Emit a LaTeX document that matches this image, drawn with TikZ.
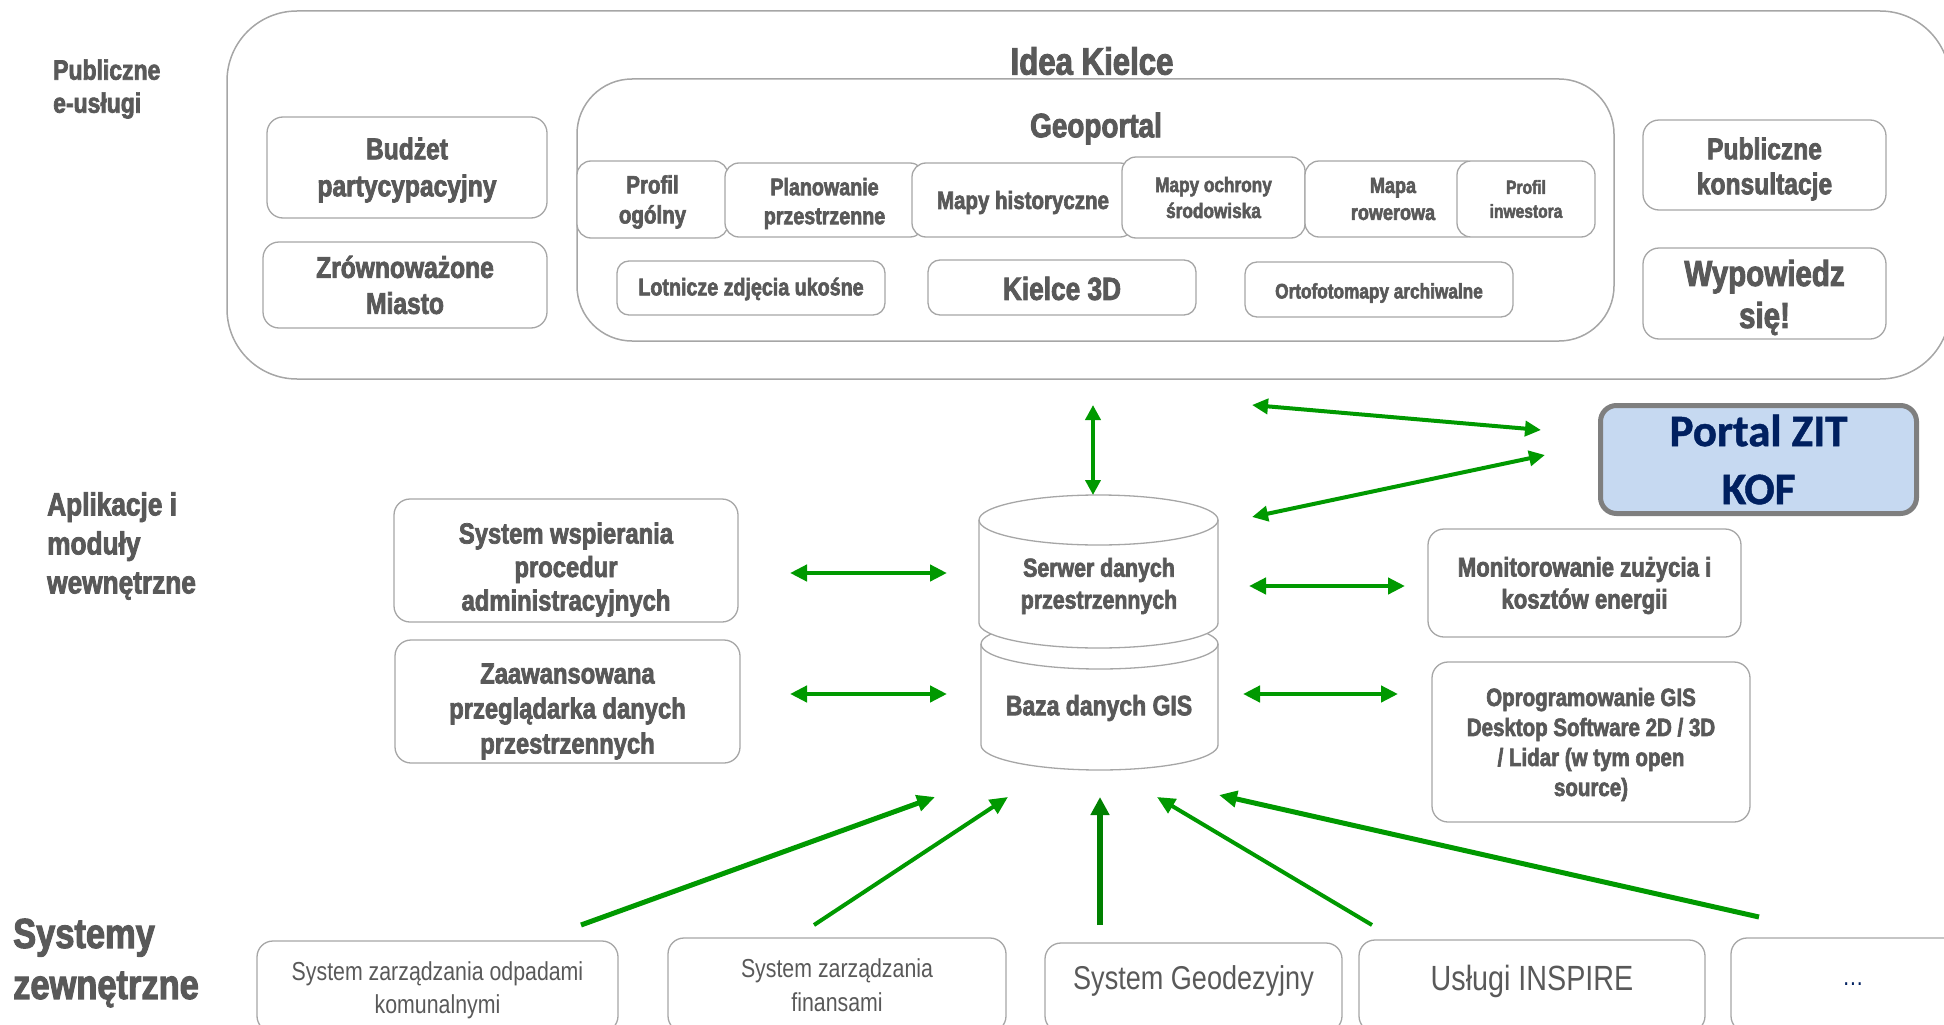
\documentclass[tikz,border=0pt]{standalone}
\usepackage{fontspec}
\setmainfont{Liberation Sans}[FakeStretch=0.82, BoldFeatures={FakeBold=2.5}]
\newfontfamily\portalfont{Carlito}[BoldFeatures={FakeBold=1}]
\usetikzlibrary{arrows.meta}
\definecolor{txt}{HTML}{595959}
\definecolor{bord}{HTML}{A6A6A6}
\definecolor{grn}{HTML}{009900}
\definecolor{dgrn}{HTML}{008000}
\definecolor{pfill}{HTML}{C6D9F1}
\definecolor{pbord}{HTML}{7F7F7F}
\definecolor{navy}{HTML}{002060}
\newcommand\fsz[2]{\fontsize{#1}{#2}\selectfont}
\begin{document}
\begin{tikzpicture}[x=1pt,y=-1pt,
  box/.style={draw=bord, line width=1.3pt, rounded corners=16pt, fill=white, inner sep=0pt},
  bigbox/.style={draw=bord, line width=1.5pt, inner sep=0pt},
  txtn/.style={inner sep=0pt, align=center, text=txt},
  lbl/.style={inner sep=0pt, align=left, text=txt, anchor=west},
  cyl/.style={draw=bord, line width=1.3pt, fill=white},
  harrow/.style={draw=grn, line width=4.5pt, {Triangle[length=17pt,width=16pt]}-{Triangle[length=17pt,width=16pt]}},
  parrow/.style={draw=grn, line width=4pt, {Triangle[length=16pt,width=15pt]}-{Triangle[length=16pt,width=15pt]}},
  uarrow/.style={draw=grn, -{Triangle[length=18pt,width=16pt]}},
]
\useasboundingbox (0,0) rectangle (1944,1025);

% ---------- top layer ----------
\node[bigbox, rounded corners=70pt, minimum width=1723pt, minimum height=368pt] (idea) at (1088.5,195) {};
\node[txtn, font=\bfseries\fsz{38}{45}] (ideaT) at (1092,61) {Idea Kielce};
\node[bigbox, rounded corners=55pt, minimum width=1037pt, minimum height=262pt] (geo) at (1095.5,210) {};
\node[txtn, font=\bfseries\fsz{34}{40}] (geoT) at (1096,128.5) {Geoportal};

\node[box, minimum width=151pt, minimum height=77pt, rounded corners=14pt] (profil) at (652.5,199.5) {};
\node[txtn, font=\bfseries\fsz{25}{30}] (profilT) at (652.5,202) {Profil\\ogólny};
\node[box, minimum width=199pt, minimum height=74pt, rounded corners=14pt] (plan) at (824.5,200) {};
\node[txtn, font=\bfseries\fsz{24}{29}] (planT) at (824.5,203.5) {Planowanie\\przestrzenne};
\node[box, minimum width=222pt, minimum height=74pt, rounded corners=14pt] (hist) at (1023,200) {};
\node[txtn, font=\bfseries\fsz{25}{30}] (histT) at (1023,202.5) {Mapy historyczne};
\node[box, minimum width=183pt, minimum height=81pt, rounded corners=14pt] (ochr) at (1213.5,197.5) {};
\node[txtn, font=\bfseries\fsz{21}{26}] (ochrT) at (1213.5,197.5) {Mapy ochrony\\środowiska};
\node[box, minimum width=175pt, minimum height=76pt, rounded corners=14pt] (rower) at (1392.5,199) {};
\node[txtn, font=\bfseries\fsz{22}{27}] (rowerT) at (1393,199) {Mapa\\rowerowa};
\node[box, minimum width=138pt, minimum height=76pt, rounded corners=14pt] (inwest) at (1526,199) {};
\node[txtn, font=\bfseries\fsz{19}{24}] (inwestT) at (1526,199) {Profil\\inwestora};

\node[box, minimum width=268pt, minimum height=54pt, rounded corners=12pt] (lotn) at (751,288) {};
\node[txtn, font=\bfseries\fsz{24}{29}] (lotnT) at (751,289) {Lotnicze zdjęcia ukośne};
\node[box, minimum width=268pt, minimum height=55pt, rounded corners=12pt] (k3d) at (1062,287.5) {};
\node[txtn, font=\bfseries\fsz{32}{38}] (k3dT) at (1062,288.5) {Kielce 3D};
\node[box, minimum width=268pt, minimum height=55pt, rounded corners=12pt] (orto) at (1379,289.5) {};
\node[txtn, font=\bfseries\fsz{21}{26}] (ortoT) at (1379,293) {Ortofotomapy archiwalne};

\node[box, minimum width=280pt, minimum height=101pt] (budzet) at (407,167.5) {};
\node[txtn, font=\bfseries\fsz{30}{37}] (budzetT) at (407,170) {Budżet\\partycypacyjny};
\node[box, minimum width=284pt, minimum height=86pt] (zrown) at (405,285) {};
\node[txtn, font=\bfseries\fsz{30}{36}] (zrownT) at (405,285) {Zrównoważone\\Miasto};
\node[box, minimum width=243pt, minimum height=90pt] (konsult) at (1764.5,165) {};
\node[txtn, font=\bfseries\fsz{30}{35}] (konsultT) at (1764.5,169) {Publiczne\\konsultacje};
\node[box, minimum width=243pt, minimum height=91pt] (wypow) at (1764.5,293.5) {};
\node[txtn, font=\bfseries\fsz{36}{42}] (wypowT) at (1764.5,297.5) {Wypowiedz\\się!};

% ---------- labels ----------
\node[lbl, font=\bfseries\fsz{28}{33}] (lblpub) at (53,89) {Publiczne\\e-usługi};
\node[lbl, font=\bfseries\fsz{32}{39}] (lblapp) at (47,546) {Aplikacje i\\moduły\\wewnętrzne};
\node[lbl, font=\bfseries\fsz{42}{51}] (lblsys) at (13,963) {Systemy\\zewnętrzne};

% ---------- middle layer ----------
\node[box, minimum width=344pt, minimum height=123pt] (sysw) at (566,560.5) {};
\node[txtn, font=\bfseries\fsz{29}{33.5}] (syswT) at (566,569.5) {System wspierania\\procedur\\administracyjnych};
\node[box, minimum width=345pt, minimum height=123pt] (zaaw) at (567.5,701.5) {};
\node[txtn, font=\bfseries\fsz{29}{35}] (zaawT) at (567.5,711.5) {Zaawansowana\\przeglądarka danych\\przestrzennych};
\node[box, minimum width=313pt, minimum height=108pt] (monit) at (1584.5,583) {};
\node[txtn, font=\bfseries\fsz{27}{32}] (monitT) at (1584.5,585.5) {Monitorowanie zużycia i\\kosztów energii};
\node[box, minimum width=318pt, minimum height=160pt] (oprog) at (1591,742) {};
\node[txtn, font=\bfseries\fsz{25}{30}] (oprogT) at (1591,744.5) {Oprogramowanie GIS\\Desktop Software 2D / 3D\\/ Lidar (w tym open\\source)};
\node[draw=pbord, line width=5pt, fill=pfill, rounded corners=16pt, inner sep=0pt, align=center, minimum width=316pt, minimum height=108pt, text=navy, font=\portalfont\bfseries\fsz{45}{58}] (portal) at (1758.5,459.5) {Portal ZIT\\KOF};

% cylinders
\path[cyl] (981,644) -- (981,745) arc[start angle=180, end angle=360, x radius=118.5pt, y radius=25pt] -- (1218,644) arc[start angle=0, end angle=180, x radius=118.5pt, y radius=25pt] -- cycle;
\draw[draw=bord, line width=1.3pt] (981,644) arc[start angle=180, end angle=360, x radius=118.5pt, y radius=25pt];
\path[cyl] (979,520) -- (979,623) arc[start angle=180, end angle=360, x radius=119.5pt, y radius=25pt] -- (1218,520) arc[start angle=0, end angle=180, x radius=119.5pt, y radius=25pt] -- cycle;
\draw[draw=bord, line width=1.3pt] (979,520) arc[start angle=180, end angle=360, x radius=119.5pt, y radius=25pt];
\node[txtn, font=\bfseries\fsz{26}{32}] (serwer) at (1099,586) {Serwer danych\\przestrzennych};
\node[txtn, font=\bfseries\fsz{28}{33}] (baza) at (1099,708) {Baza danych GIS};

% ---------- bottom layer ----------
\node[box, minimum width=361pt, minimum height=91pt] (odp) at (437.5,986.5) {};
\node[txtn, font=\fsz{26}{33}] (odpT) at (437.5,990) {System zarządzania odpadami\\komunalnymi};
\node[box, minimum width=338pt, minimum height=94pt] (fin) at (837,985) {};
\node[txtn, font=\fsz{26}{34}] (finT) at (837,985) {System zarządzania\\finansami};
\node[box, minimum width=297pt, minimum height=89pt] (geod) at (1193.5,987.5) {};
\node[txtn, font=\fsz{33}{38}] (geodT) at (1193.5,980.5) {System Geodezyjny};
\node[box, minimum width=346pt, minimum height=92pt] (insp) at (1532,986) {};
\node[txtn, font=\fsz{35}{40}] (inspT) at (1532,981) {Usługi INSPIRE};
\node[box, minimum width=239pt, minimum height=94pt] (more) at (1850.5,985) {};
\node[txtn, text=navy, font=\fsz{26}{30}] (moreT) at (1853,984) {…};

% ---------- connectors ----------
\coordinate (ideaS) at (1093,405);
\coordinate (srvN) at (1093,495);
\coordinate (srvNE) at (1252,405);
\coordinate (srvE1) at (1252,517);
\coordinate (portW1) at (1541,430);
\coordinate (portW2) at (1545,455);
\coordinate (syswE) at (790,573);
\coordinate (srvW) at (947,573);
\coordinate (zaawE) at (790,694);
\coordinate (bazaW) at (947,694);
\coordinate (srvE) at (1249,586);
\coordinate (monitW) at (1405,586);
\coordinate (bazaE) at (1243,694);
\coordinate (oprogW) at (1398,694);
\coordinate (odpN) at (581,925);
\coordinate (finN) at (814,925);
\coordinate (geodN) at (1100,925);
\coordinate (inspN) at (1372,925);
\coordinate (moreN) at (1759,917);
\coordinate (bz1) at (935,797);
\coordinate (bz2) at (1008,797);
\coordinate (bz3) at (1100,797);
\coordinate (bz4) at (1157,797);
\coordinate (bz5) at (1219,795);

\draw[draw=grn, line width=4pt, {Triangle[length=15pt,width=15pt]}-{Triangle[length=15pt,width=15pt]}] (ideaS) -- (srvN);
\draw[parrow] (srvNE) -- (portW1);
\draw[parrow] (srvE1) -- (portW2);
\draw[harrow] (syswE) -- (srvW);
\draw[harrow] (zaawE) -- (bazaW);
\draw[harrow] (srvE) -- (monitW);
\draw[harrow] (bazaE) -- (oprogW);
\draw[uarrow, line width=5pt] (odpN) -- (bz1);
\draw[uarrow, line width=4pt] (finN) -- (bz2);
\draw[draw=dgrn, line width=6pt, -{Triangle[length=18pt,width=18pt]}] (geodN) -- (bz3);
\draw[uarrow, line width=4pt] (inspN) -- (bz4);
\draw[uarrow, line width=5pt] (moreN) -- (bz5);
\end{tikzpicture}
\end{document}
